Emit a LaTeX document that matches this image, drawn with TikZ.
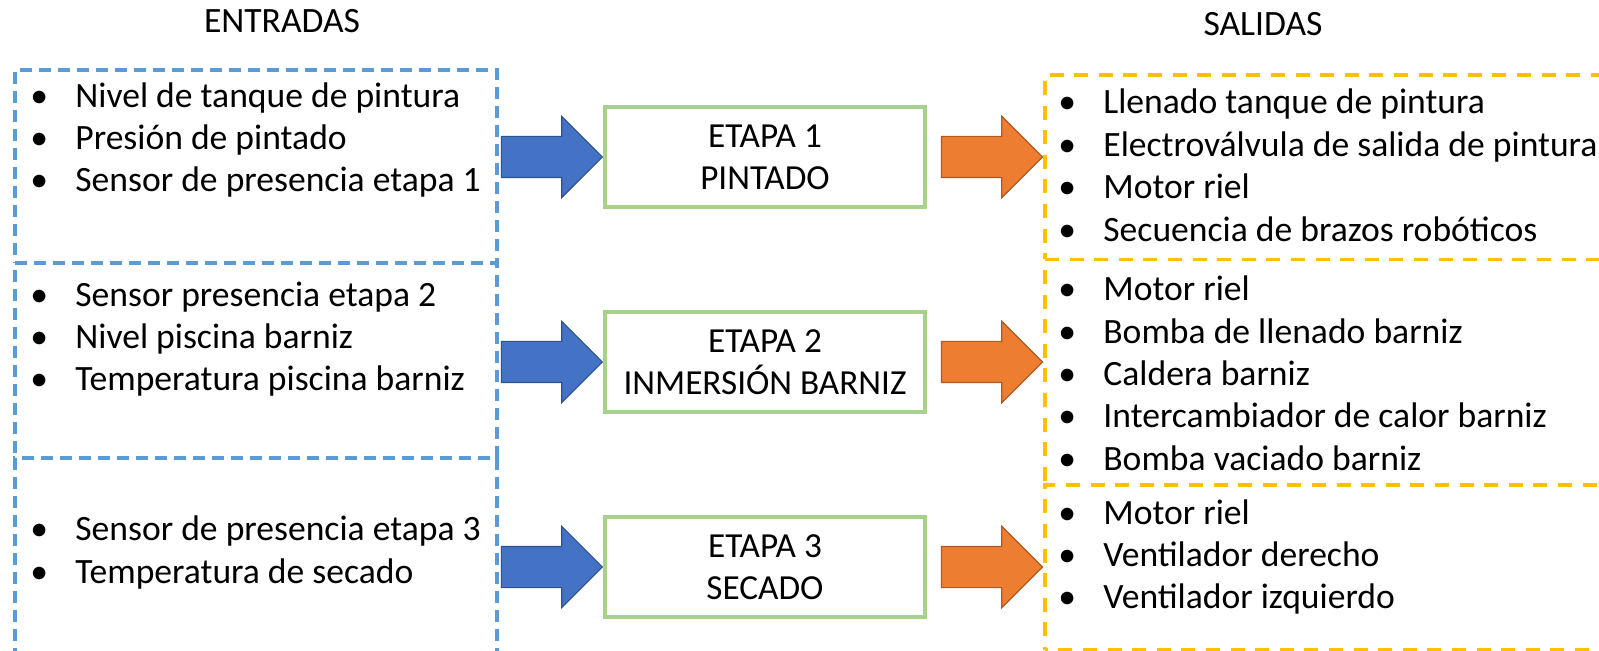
\documentclass[tikz,border=0pt]{standalone}
\usepackage{fontspec}
\setmainfont{Carlito}
\usetikzlibrary{positioning,shapes.arrows}

\definecolor{inblue}{HTML}{5B9BD5}
\definecolor{outgold}{HTML}{FFC000}
\definecolor{stagegreen}{HTML}{A9D18E}
\definecolor{arrowblue}{HTML}{4472C4}
\definecolor{arrowblueline}{HTML}{2F528F}
\definecolor{arroworange}{HTML}{ED7D31}
\definecolor{arroworangeline}{HTML}{AE5A21}

\newcommand{\listfont}{\fontsize{17.8pt}{21pt}\selectfont}
\newcommand{\bul}{\makebox[22.5pt][l]{\textbullet}}

\tikzset{
  inbox/.style={draw=inblue, line width=1.6pt, dash pattern=on 6pt off 3.5pt, minimum width=241pt, inner sep=0pt},
  outbox/.style={draw=outgold, line width=1.6pt, dash pattern=on 7pt off 5.3pt, minimum width=327.5pt, inner sep=0pt},
  stage/.style={draw=stagegreen, line width=1.8pt, minimum width=160pt, minimum height=50pt, align=center, font=\fontsize{17.6pt}{21pt}\selectfont},
  blockarrow/.style={single arrow, single arrow head extend=10pt, inner xsep=0pt, inner ysep=10pt, minimum height=50.5pt, line width=0.6pt},
  inarrow/.style={blockarrow, fill=arrowblue, draw=arrowblueline},
  outarrow/.style={blockarrow, fill=arroworange, draw=arroworangeline},
  item/.style={anchor=base west, inner sep=0pt, font=\listfont},
  head/.style={anchor=base, inner sep=0pt, font=\listfont}
}

\begin{document}
\begin{tikzpicture}[x=0.5pt, y=-0.5pt]
  \useasboundingbox (0,0) rectangle (1599,651);
  \clip (0,0) rectangle (1599,651);
  % column headers
  \node[head] (hin) at (282,33) {ENTRADAS};
  \node[head] (hout) at (1263,36) {SALIDAS};
  % input boxes on the left, output boxes on the right (phases keep shared edges dashed)
  \node[inbox, minimum height=96.5pt] (in1) at (256,166.5) {};
  \node[inbox, minimum height=97.5pt, dash phase=6pt] (in2) at (256,360.5) {};
  \node[inbox, minimum height=131pt, dash phase=4.5pt] (in3) at (256,589) {};
  \node[outbox, minimum height=92.25pt] (out1) at (1372.5,167.25) {};
  \node[outbox, minimum height=112.75pt, dash phase=1.85pt] (out2) at (1372.5,372.25) {};
  \node[outbox, minimum height=82.5pt, dash phase=5.65pt] (out3) at (1372.5,567.5) {};
  % stages
  \node[stage] (e1) at (765,157) {ETAPA 1\\PINTADO};
  \node[stage, below=50.7pt of e1] (e2) {ETAPA 2\\INMERSIÓN BARNIZ};
  \node[stage, below=50.7pt of e2] (e3) {ETAPA 3\\SECADO};
  % block arrows into and out of each stage
  \foreach \s in {1,2,3} {
    \node[inarrow, left=0pt of e\s] (a\s) {};
    \node[outarrow, right=7pt of e\s] (b\s) {};
  }
  % inputs
  \foreach \txt [count=\i from 0] in {Nivel de tanque de pintura, Presión de pintado, Sensor de presencia etapa 1}
    \node[item] (p1-\i) at (30,{108+42*\i}) {\bul\txt};
  \foreach \txt [count=\i from 0] in {Sensor presencia etapa 2, Nivel piscina barniz, Temperatura piscina barniz}
    \node[item] (p2-\i) at (30,{307+42*\i}) {\bul\txt};
  \foreach \txt [count=\i from 0] in {Sensor de presencia etapa 3, Temperatura de secado}
    \node[item] (p3-\i) at (30,{540+43*\i}) {\bul\txt};
  % outputs
  \foreach \txt [count=\i from 0] in {Llenado tanque de pintura, Electroválvula de salida de pintura, Motor riel, Secuencia de brazos robóticos}
    \node[item] (q1-\i) at (1058,{114+42.5*\i}) {\bul\txt};
  \foreach \txt [count=\i from 0] in {Motor riel, Bomba de llenado barniz, Caldera barniz, Intercambiador de calor barniz, Bomba vaciado barniz}
    \node[item] (q2-\i) at (1058,{301+42.3*\i}) {\bul\txt};
  \foreach \txt [count=\i from 0] in {Motor riel, Ventilador derecho, Ventilador izquierdo}
    \node[item] (q3-\i) at (1058,{524+42*\i}) {\bul\txt};
\end{tikzpicture}
\end{document}
